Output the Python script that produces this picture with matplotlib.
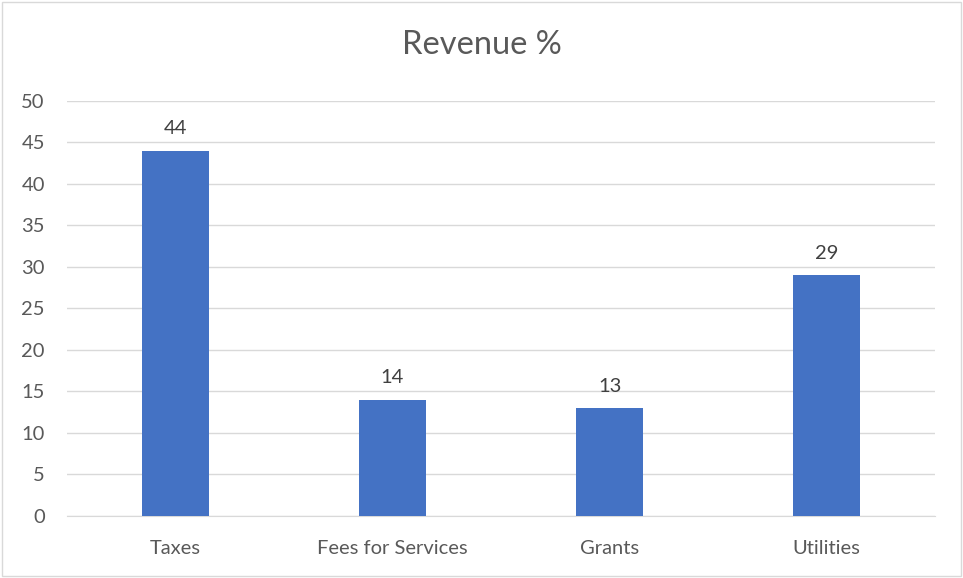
import matplotlib.pyplot as plt
import numpy as np
from matplotlib.patches import Rectangle

plt.rcParams['font.family'] = ['Lato', 'DejaVu Sans']

categories = ['Taxes', 'Fees for Services', 'Grants', 'Utilities']
values = [44, 14, 13, 29]
yticks = [0, 5, 10, 15, 20, 25, 30, 35, 40, 45, 50]

BAR_COLOR = '#4472C4'
GRID_COLOR = '#D9D9D9'
TEXT_COLOR = '#595959'

fig = plt.figure(figsize=(9.63, 5.78), dpi=100)
fig.patches.append(Rectangle((0.002, 0.003), 0.996, 0.994, transform=fig.transFigure,
                             fill=False, edgecolor='#D9D9D9', linewidth=1))
ax = fig.add_axes([0.0696, 0.1073, 0.9014, 0.718])

x = np.arange(len(categories))
bars = ax.bar(x, values, width=0.31, color=BAR_COLOR, zorder=3)
for b, v in zip(bars, values):
    ax.text(b.get_x() + b.get_width() / 2, v + 1.6, str(v), ha='center', va='bottom',
            fontsize=14.5, color='#404040')

ax.set_xlim(-0.5, len(categories) - 0.5)
ax.set_ylim(0, 50)
ax.set_yticks(yticks)
ax.set_xticks(x)
ax.set_xticklabels(categories)
ax.tick_params(axis='both', length=0, labelsize=14.5, labelcolor=TEXT_COLOR)
ax.tick_params(axis='y', pad=16)
ax.tick_params(axis='x', pad=17)
ax.grid(axis='y', color=GRID_COLOR, linewidth=1, zorder=0)
for s in ['top', 'right', 'left']:
    ax.spines[s].set_visible(False)
ax.spines['bottom'].set_color(GRID_COLOR)

fig.text(0.5, 0.922, 'Revenue %', ha='center', va='center', fontsize=23.5, color=TEXT_COLOR)

fig.savefig('out.png', dpi=100)
